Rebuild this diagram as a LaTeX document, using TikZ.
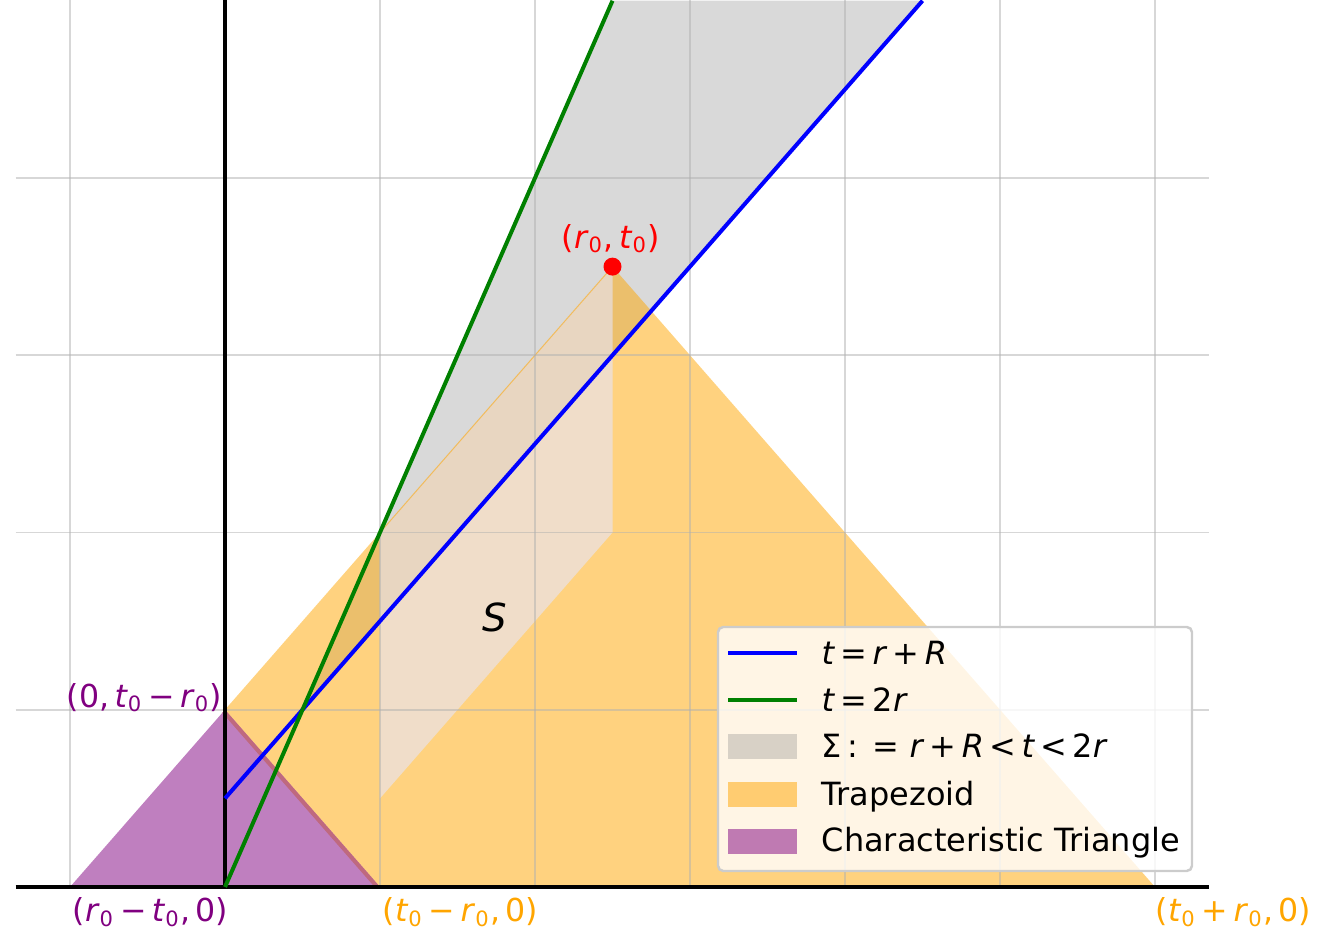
\documentclass[tikz,border=0pt]{standalone}
\usepackage{fontspec}
\setmainfont{DejaVu Sans}
\usepackage{tikz}
\usepackage{xcolor}
\definecolor{mplblue}{HTML}{0000FF}
\definecolor{mplgreen}{HTML}{008000}
\definecolor{mplorange}{HTML}{FFA500}
\definecolor{mplpurple}{HTML}{800080}
\definecolor{mplgray}{HTML}{808080}
\definecolor{mplred}{HTML}{FF0000}
\definecolor{lavendr}{HTML}{E6E6FA}
\definecolor{stripcol}{HTML}{BF697F}
\definecolor{gridcol}{HTML}{B0B0B0}
\definecolor{framecol}{HTML}{CCCCCC}
\newcommand{\mi}[1]{\textit{#1}}
\newcommand{\lo}[1]{\textsubscript{#1}}
\newcommand{\op}[1]{\,#1\,}

\begin{document}
\begin{tikzpicture}[x=1.55cm,y=1.7725cm,
    lbl/.style={font=\fontsize{9}{10.8}\selectfont,inner sep=0pt},
    leglbl/.style={font=\fontsize{9.1}{10.9}\selectfont,inner sep=0pt},
    gridline/.style={gridcol,opacity=0.5,line width=0.55pt},
    curve/.style={line width=1.14pt},
    legpatch/.style={minimum width=0.69cm,minimum height=0.25cm,inner sep=0pt}]
    \useasboundingbox (-1.4516,-0.2652) rectangle (7.2065,5.0042);
    % regions
    \fill[mplgray,opacity=0.3] (0.5,1) -- (2.5,5) -- (4.5,5) -- cycle;
    \fill[mplorange,opacity=0.5] (0,1) -- (2.5,3.5) -- (6,0) -- (1,0) -- cycle;
    \fill[mplpurple,opacity=0.5] (-1,0) -- (0,1) -- (1,0) -- cycle;
    \begin{scope}
        \clip (-1,0) -- (0,1) -- (1,0) -- cycle;
        \draw[stripcol,line width=2.3pt] (0,1) -- (1,0);
    \end{scope}
    \fill[lavendr,opacity=0.6] (1,0.5) -- (1,2) -- (2.5,3.5) -- (2.5,2) -- cycle;
    \draw[mplorange,opacity=0.5,line width=0.3pt] (1,2) -- (2.5,3.5);
    % grid
    \foreach \r in {-1,...,6}{
        \draw[gridline] (\r,0) -- (\r,5.0042);}
    \foreach \t in {1,...,4}{
        \draw[gridline] (-1.35,\t) -- (6.35,\t);}
    % axes
    \draw[black,line width=1.1pt] (-1.35,0) -- (6.35,0);
    \draw[black,line width=1.1pt] (0,0) -- (0,5.0042);
    % lines
    \draw[mplblue,curve] (0,0.5) -- (4.5,5);
    \draw[mplgreen,curve] (0,0) -- (2.5,5);
    \fill[mplred] (2.5,3.5) circle[radius=0.09cm];
    % labels
    \node[lbl,mplred,anchor=base] (ptlabel) at (2.49,3.605) {(\mi{r}\lo{0},\,\mi{t}\lo{0})};
    \node[lbl,mplpurple,anchor=base east] (toplabel) at (-0.013,1.015) {(0,\,\mi{t}\lo{0}\op{−}\mi{r}\lo{0})};
    \node[lbl,mplpurple,anchor=base west] (leftlabel) at (-0.987,-0.197) {(\mi{r}\lo{0}\op{−}\mi{t}\lo{0},\,0)};
    \node[lbl,mplorange,anchor=base west] (midlabel) at (1.013,-0.197) {(\mi{t}\lo{0}\op{−}\mi{r}\lo{0},\,0)};
    \node[lbl,mplorange,anchor=base west] (rightlabel) at (6.0,-0.197) {(\mi{t}\lo{0}\op{+}\mi{r}\lo{0},\,0)};
    \node[inner sep=0pt,font=\fontsize{11}{13}\selectfont,anchor=base] (slabel) at (1.742,1.439) {\mi{S}};
    % legend
    \draw[framecol,fill=white,fill opacity=0.8,line width=0.7pt,rounded corners=1.5pt]
        (3.1806,0.0903) rectangle (6.2387,1.4669);
    \draw[mplblue,curve] (3.2452,1.3202) -- (3.6903,1.3202);
    \draw[mplgreen,curve] (3.2452,1.0550) -- (3.6903,1.0550);
    \node[legpatch,fill=mplgray,fill opacity=0.3] (sigpatch) at (3.4677,0.7899) {};
    \node[legpatch,fill=mplorange,fill opacity=0.5] (trappatch) at (3.4677,0.5247) {};
    \node[legpatch,fill=mplpurple,fill opacity=0.5] (tripatch) at (3.4677,0.2595) {};
    \node[leglbl,anchor=base west] (leg1) at (3.8452,1.2581) {\mi{t}\op{=}\mi{r}\op{+}\mi{R}};
    \node[leglbl,anchor=base west] (leg2) at (3.8452,0.9929) {\mi{t}\op{=}2\mi{r}};
    \node[leglbl,anchor=base west] (leg3) at (3.8452,0.7295) {Σ\,:\;\,=\op{}\mi{r}\op{+}\mi{R}\op{<}\mi{t}\op{<}2\mi{r}};
    \node[leglbl,anchor=base west] (leg4) at (3.8452,0.4626) {Trapezoid};
    \node[leglbl,anchor=base west] (leg5) at (3.8452,0.1992) {Characteristic Triangle};
\end{tikzpicture}
\end{document}
